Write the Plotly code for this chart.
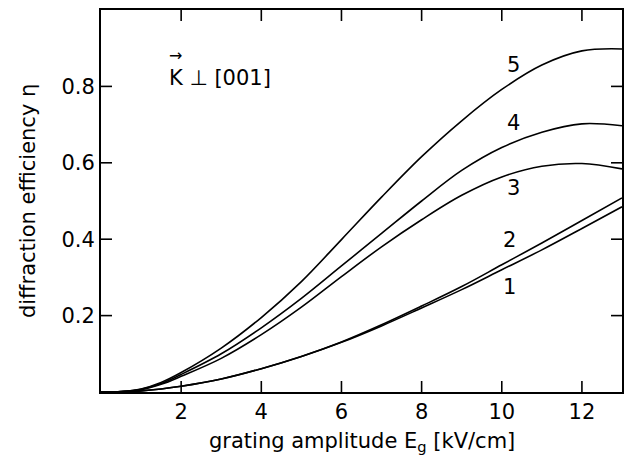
import plotly.graph_objects as go

# Data
E_field = [0, 0.5, 1, 1.5, 2, 3, 4, 5, 6, 7, 8, 9, 10, 11, 12, 13]
eta_1 = [0, 0.0005, 0.003, 0.008, 0.015, 0.034, 0.061, 0.093, 0.130, 0.173, 0.220, 0.268, 0.320, 0.372, 0.428, 0.485]
eta_2 = [0, 0.0005, 0.003, 0.008, 0.015, 0.034, 0.061, 0.093, 0.131, 0.176, 0.225, 0.276, 0.333, 0.390, 0.449, 0.508]
eta_3 = [0, 0.001, 0.006, 0.020, 0.041, 0.088, 0.150, 0.222, 0.302, 0.380, 0.451, 0.515, 0.563, 0.591, 0.598, 0.584]
eta_4 = [0, 0.001, 0.007, 0.022, 0.046, 0.100, 0.168, 0.245, 0.330, 0.415, 0.500, 0.580, 0.640, 0.680, 0.702, 0.697]
eta_5 = [0, 0.001, 0.008, 0.025, 0.051, 0.115, 0.195, 0.289, 0.399, 0.510, 0.616, 0.710, 0.792, 0.856, 0.893, 0.898]

series = [eta_1, eta_2, eta_3, eta_4, eta_5]
curve_labels = ["1", "2", "3", "4", "5"]
label_x = [10.2, 10.2, 10.3, 10.3, 10.3]
label_y = [0.276, 0.398, 0.534, 0.704, 0.856]

x_ticks = [2, 4, 6, 8, 10, 12]
y_ticks = [0.2, 0.4, 0.6, 0.8]
x_range = [0, 13]
y_range = [0, 1.0]

x_title = "grating amplitude E<sub>g</sub> [kV/cm]"
y_title = "diffraction efficiency \u03b7"

FONT = "DejaVu Sans"
FS = 21
W, H = 631, 460
M = dict(l=101, r=9, t=10, b=68)
TICK_PX = 11

plot_w = W - M["l"] - M["r"]
plot_h = H - M["t"] - M["b"]
tick_dx = TICK_PX / plot_w * (x_range[1] - x_range[0])
tick_dy = TICK_PX / plot_h * (y_range[1] - y_range[0])

fig = go.Figure()
for ys in series:
    fig.add_trace(go.Scatter(x=E_field, y=ys, mode="lines",
                             line=dict(color="black", width=1.6, shape="spline", smoothing=1.0),
                             showlegend=False, hoverinfo="skip"))

# inward tick marks on all four sides, built from the tick value lists
tx, ty = [], []
for tv in x_ticks:
    tx += [tv, tv, None, tv, tv, None]
    ty += [y_range[0], y_range[0] + tick_dy, None, y_range[1], y_range[1] - tick_dy, None]
for tv in y_ticks:
    tx += [x_range[0], x_range[0] + tick_dx, None, x_range[1], x_range[1] - tick_dx, None]
    ty += [tv, tv, None, tv, tv, None]
fig.add_trace(go.Scatter(x=tx, y=ty, mode="lines", line=dict(color="black", width=1.6),
                         showlegend=False, hoverinfo="skip", connectgaps=False))

for lab, lx, ly in zip(curve_labels, label_x, label_y):
    fig.add_annotation(x=lx, y=ly, text=lab, showarrow=False,
                       font=dict(family=FONT, size=FS, color="black"))

fig.add_annotation(x=1.65, y=0.822, text="K \u22a5 [001]", showarrow=False, xanchor="left",
                   font=dict(family=FONT, size=FS, color="black"))
fig.add_annotation(x=1.87, y=0.880, text="\u2192", showarrow=False,
                   font=dict(family=FONT, size=16, color="black"))

# axis titles
fig.add_annotation(xref="paper", yref="paper", x=0.5, y=-0.132, text=x_title,
                   showarrow=False, xanchor="center", yanchor="middle",
                   font=dict(family=FONT, size=FS, color="black"))
fig.add_annotation(xref="paper", yref="paper", x=-0.140, y=0.5, text=y_title,
                   showarrow=False, xanchor="center", yanchor="middle", textangle=-90,
                   font=dict(family=FONT, size=FS, color="black"))

axis_common = dict(showline=True, linecolor="black", linewidth=2, mirror=True,
                   ticks="", showgrid=False, zeroline=False, automargin=False,
                   tickfont=dict(family=FONT, size=FS, color="black"))

fig.update_xaxes(range=x_range, tickmode="array", tickvals=x_ticks,
                 ticktext=[str(v) for v in x_ticks], **axis_common)
fig.update_yaxes(range=y_range, tickmode="array", tickvals=y_ticks,
                 ticktext=["0.2", "0.4", "0.6", "0.8"], **axis_common)

fig.update_layout(width=W, height=H, margin=M,
                  paper_bgcolor="white", plot_bgcolor="white")

fig.write_html("out.html", config={"displayModeBar": False},
               post_script="document.body.style.margin='0';")
